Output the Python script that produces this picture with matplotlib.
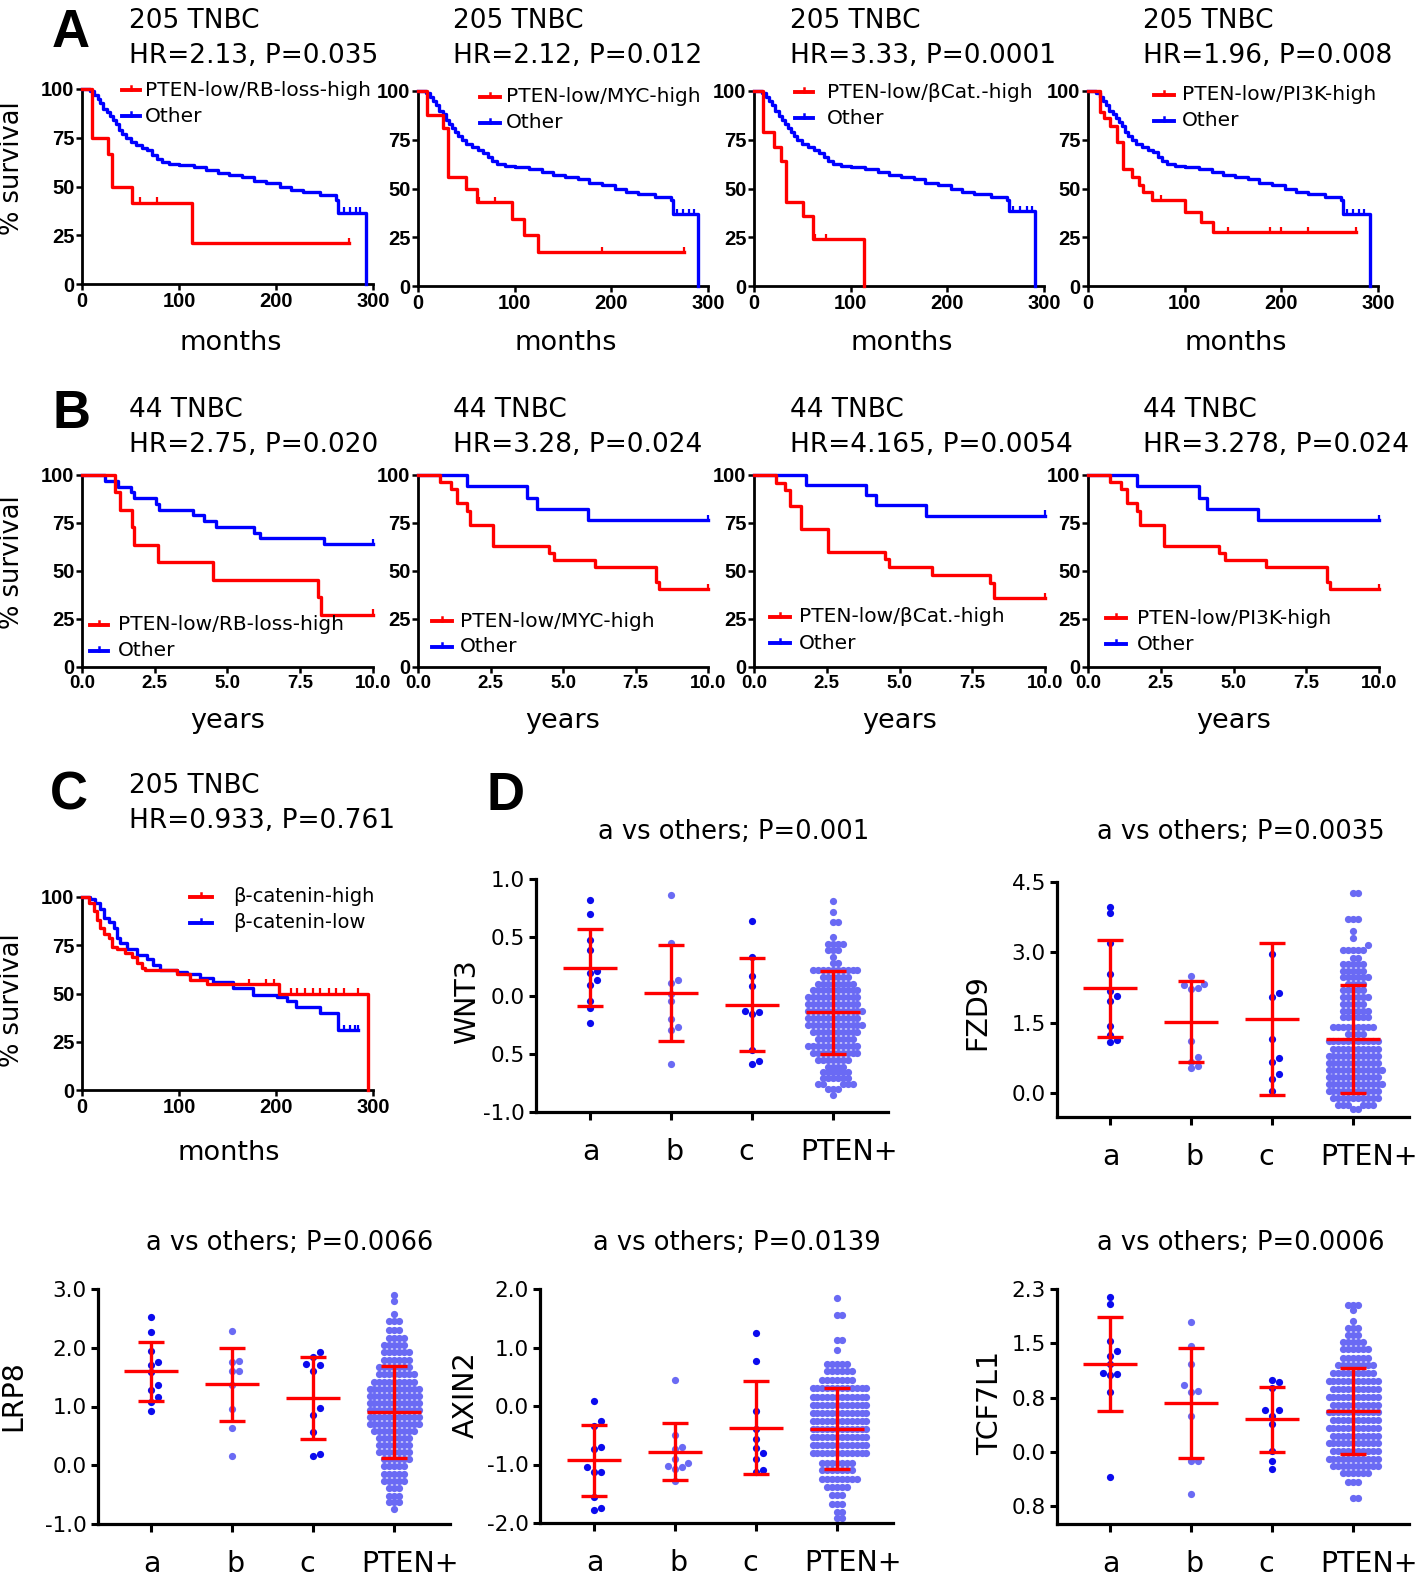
import matplotlib
matplotlib.use("Agg")
import matplotlib.pyplot as plt
from matplotlib.lines import Line2D
import numpy as np

plt.rcParams['font.family'] = 'DejaVu Sans'

RED = '#ff0000'
BLUE = '#0000ff'
DOT_DARK = '#0b0bee'
DOT_LIGHT = '#6a6af4'

# ---------------- A: 205 TNBC, months ----------------
a_hr = ['HR=2.13, P=0.035', 'HR=2.12, P=0.012', 'HR=3.33, P=0.0001', 'HR=1.96, P=0.008']
a_low_labels = ['PTEN-low/RB-loss-high', 'PTEN-low/MYC-high', 'PTEN-low/\u03b2Cat.-high', 'PTEN-low/PI3K-high']

a1_low_t = [0, 10, 27, 31, 52, 113, 275]
a1_low_s = [100, 75, 66.7, 50, 41.7, 20.8, 20.8]
a1_low_c = [60, 77, 275]
a2_low_t = [0, 9, 25.5, 31, 50, 61, 97, 110, 124, 275]
a2_low_s = [100, 87.5, 81, 56, 50, 43, 34.5, 26, 17.3, 17.3]
a2_low_c = [63, 80, 190, 275]
a3_low_t = [0, 9, 21, 28, 33, 51, 61, 114]
a3_low_s = [100, 79, 71.5, 64, 43, 36, 24, 0]
a3_low_c = [63, 75]
a4_low_t = [0, 12, 17, 23, 30, 36, 45, 53, 57, 66, 100, 117, 129, 277]
a4_low_s = [100, 89, 86, 82, 74, 60, 56, 52, 48, 44, 38, 33, 27.6, 27.6]
a4_low_c = [75, 145, 188, 200, 228, 277]

a1_oth_t = [0, 8, 12, 16, 19, 22, 26, 29, 32, 35, 38, 41, 45, 50, 56, 62, 67, 72, 77, 82, 90,
            100, 115, 128, 140, 152, 165, 177, 190, 204, 215, 228, 245, 262, 264, 293]
a1_oth_s = [100, 99, 97, 95, 93, 90, 88, 86, 84, 82, 79, 77, 75, 73, 71.5, 70, 68.5, 66, 64, 62.5, 61.5,
            61, 60, 58.5, 57, 56, 55, 53, 52, 50, 48, 47, 45.5, 43, 36.5, 0]
a1_oth_c = [270, 276, 282, 287]
a2_oth_t = [0, 8, 12, 16, 19, 22, 26, 29, 32, 35, 38, 41, 45, 50, 56, 62, 67, 72, 77, 82, 90,
            100, 115, 128, 140, 152, 165, 177, 190, 204, 215, 228, 245, 262, 264, 290]
a2_oth_s = [100, 99, 97, 95, 93, 90, 88, 85, 83, 81, 79, 77, 75, 73, 71.5, 70, 68, 66, 64, 62.5, 61.5,
            61, 60, 58.5, 57, 56, 55, 53, 52, 50, 48, 47, 45.5, 44, 37, 0]
a2_oth_c = [268, 274, 280, 285]
a3_oth_t = [0, 8, 12, 16, 19, 22, 26, 29, 32, 35, 38, 41, 45, 50, 56, 62, 67, 72, 77, 82, 90,
            100, 115, 128, 140, 152, 165, 177, 190, 204, 215, 228, 245, 262, 264, 291]
a3_oth_s = [100, 99, 97, 95, 93, 90, 87, 85, 83, 81, 79, 77, 75, 73, 71.5, 70, 68, 66, 64, 62.5, 61.5,
            61, 60, 58.5, 57, 56, 55, 53, 52, 50, 48, 47, 45.5, 44, 38.5, 0]
a3_oth_c = [268, 275, 282, 288]
a4_oth_t = [0, 8, 12, 16, 19, 22, 26, 29, 32, 35, 38, 41, 45, 50, 56, 62, 67, 72, 77, 82, 90,
            100, 115, 128, 140, 152, 165, 177, 190, 204, 215, 228, 245, 262, 264, 292]
a4_oth_s = [100, 99, 97, 95, 93, 90, 88, 86, 84, 82, 79, 77, 75, 73, 71.5, 70, 68.5, 66, 64, 62.5, 61.5,
            61, 60, 58.5, 57, 56, 55, 53, 52, 50, 48, 47, 45.5, 44, 37, 0]
a4_oth_c = [268, 274, 280, 286]

# ---------------- B: 44 TNBC, years ----------------
b_hr = ['HR=2.75, P=0.020', 'HR=3.28, P=0.024', 'HR=4.165, P=0.0054', 'HR=3.278, P=0.024']

b1_low_t = [0, 1.15, 1.3, 1.72, 1.8, 2.6, 4.5, 8.1, 8.2, 10]
b1_low_s = [100, 91, 82, 73, 63.6, 54.5, 45.5, 36.4, 27.3, 27.3]
b1_oth_t = [0, 0.8, 1.25, 1.7, 1.8, 2.55, 2.65, 3.8, 4.2, 4.6, 5.9, 6.1, 8.3, 10]
b1_oth_s = [100, 97, 94, 91, 88, 85, 82, 79, 76, 73, 70, 67, 64, 64]
b2_low_t = [0, 0.75, 1.15, 1.35, 1.7, 1.8, 2.6, 4.5, 4.7, 6.1, 8.2, 8.3, 10]
b2_low_s = [100, 96.3, 92.6, 85.2, 81.5, 74.1, 63, 59.3, 55.6, 51.9, 44.4, 40.7, 40.7]
b2_oth_t = [0, 1.68, 3.75, 4.1, 5.86, 10]
b2_oth_s = [100, 94.1, 88.2, 82.4, 76.5, 76.5]
b3_low_t = [0, 0.75, 1.05, 1.25, 1.62, 2.55, 4.5, 4.65, 6.1, 8.1, 8.25, 10]
b3_low_s = [100, 96, 92, 84, 72, 60, 56, 52, 48, 44, 36, 36]
b3_oth_t = [0, 1.78, 3.84, 4.2, 5.9, 10]
b3_oth_s = [100, 94.7, 89.5, 84.2, 78.9, 78.9]
b4_low_t = [0, 0.75, 1.15, 1.35, 1.7, 1.8, 2.6, 4.5, 4.7, 6.1, 8.2, 8.3, 10]
b4_low_s = [100, 96.3, 92.6, 85.2, 81.5, 74.1, 63, 59.3, 55.6, 51.9, 44.4, 40.7, 40.7]
b4_oth_t = [0, 1.7, 3.8, 4.1, 5.85, 10]
b4_oth_s = [100, 94.1, 88.2, 82.4, 76.5, 76.5]

# ---------------- C: beta-catenin, months ----------------
c_high_t = [0, 6.9, 12, 15.4, 18.9, 22.3, 27.4, 30.9, 36, 44.6, 51.4, 56.6, 61.7, 65, 97.7, 111, 128.6, 203, 295]
c_high_s = [100, 97, 93, 88, 84, 81, 79, 74, 73, 71, 69, 66, 63, 62, 60, 57, 55, 50, 0]
c_high_c = [172, 190, 198, 215, 222, 230, 238, 245, 255, 262, 270, 285]
c_low_t = [0, 8.6, 13.7, 18.9, 22.3, 27.4, 32.6, 36, 39.4, 46.3, 56.6, 66.9, 73.7, 80.6, 97.7, 108,
           121.7, 135, 156, 176.6, 200.6, 210.9, 221, 245, 264, 284.6]
c_low_s = [100, 99, 97, 94, 89, 87, 84, 79, 76, 73, 70, 68, 65, 62, 61, 60,
           58, 56, 53, 49, 48, 46, 43, 40, 31, 31]
c_low_c = [270, 276, 281, 284.6]

# ---------------- D: expression by group ----------------
groups = ['a', 'b', 'c', 'PTEN+']

wnt3_a = [0.82, 0.70, 0.48, 0.39, 0.21, 0.19, 0.13, 0.09, -0.05, -0.11, -0.24]
wnt3_b = [0.86, 0.45, 0.13, 0.11, 0.01, -0.05, -0.20, -0.27, -0.30, -0.59]
wnt3_c = [0.64, 0.33, 0.17, 0.08, -0.13, -0.14, -0.16, -0.47, -0.56, -0.59]
wnt3_p_lev = [0.81, 0.72, 0.63, 0.50, 0.44, 0.39, 0.33, 0.28, 0.22, 0.16, 0.10, 0.05, -0.01, -0.07,
              -0.13, -0.19, -0.25, -0.31, -0.37, -0.43, -0.49, -0.55, -0.61, -0.66, -0.71, -0.76, -0.80, -0.85]
wnt3_p_cnt = [1, 1, 2, 1, 4, 3, 1, 2, 10, 6, 8, 10, 11, 11, 12, 11, 12, 10, 8, 11, 10, 7, 4, 6, 6, 5, 3, 1]
wnt3_mean = [0.24, 0.02, -0.08, -0.145]
wnt3_sd = [0.33, 0.41, 0.40, 0.355]

fzd9_a = [3.97, 3.83, 3.19, 2.54, 2.18, 2.07, 1.97, 1.42, 1.24, 1.13, 1.08]
fzd9_b = [2.49, 2.32, 2.30, 2.23, 2.21, 1.12, 0.77, 0.67, 0.57, 0.53]
fzd9_c = [2.96, 2.13, 2.04, 1.15, 0.74, 0.66, 0.41, 0.30, 0.04]
fzd9_p_lev = [4.27, 3.72, 3.45, 3.30, 3.15, 3.05, 2.88, 2.75, 2.60, 2.48, 2.33, 2.20, 2.05, 1.90, 1.75,
              1.62, 1.40, 1.25, 1.10, 0.95, 0.80, 0.65, 0.50, 0.35, 0.20, 0.05, -0.10, -0.25, -0.33]
fzd9_p_cnt = [2, 3, 1, 1, 1, 5, 2, 5, 5, 6, 4, 5, 6, 5, 6, 6, 9, 4, 11, 10, 11, 11, 12, 11, 12, 11, 10, 6, 2]
fzd9_mean = [2.23, 1.52, 1.57, 1.15]
fzd9_sd = [1.04, 0.86, 1.62, 1.15]

lrp8_a = [2.52, 2.27, 1.95, 1.76, 1.70, 1.58, 1.36, 1.28, 1.16, 1.08, 0.93]
lrp8_b = [2.28, 1.78, 1.75, 1.61, 1.61, 1.37, 0.95, 0.64, 0.15]
lrp8_c = [1.92, 1.84, 1.72, 1.71, 1.61, 0.97, 0.86, 0.56, 0.19, 0.16]
lrp8_p_lev = [2.90, 2.80, 2.58, 2.45, 2.30, 2.17, 2.05, 1.92, 1.80, 1.68, 1.55, 1.42, 1.30, 1.18, 1.06,
              0.94, 0.82, 0.70, 0.58, 0.46, 0.34, 0.22, 0.10, -0.02, -0.15, -0.27, -0.38, -0.52, -0.62, -0.75]
lrp8_p_cnt = [1, 1, 1, 3, 3, 4, 5, 6, 6, 7, 8, 9, 11, 11, 11, 11, 11, 11, 9, 7, 7, 7, 6, 5, 5, 5, 3, 3, 3, 1]
lrp8_mean = [1.60, 1.38, 1.15, 0.91]
lrp8_sd = [0.50, 0.62, 0.70, 0.78]

axin2_a = [0.09, -0.25, -0.35, -0.70, -0.73, -1.04, -1.13, -1.13, -1.56, -1.74, -1.78]
axin2_b = [0.45, -0.50, -0.70, -0.73, -0.90, -0.98, -1.02, -1.05, -1.08, -1.28]
axin2_c = [1.24, 0.77, -0.09, -0.39, -0.56, -0.72, -0.80, -0.91, -1.09, -1.12]
axin2_p_lev = [1.85, 1.55, 1.13, 0.95, 0.72, 0.60, 0.45, 0.30, 0.16, 0.02, -0.12, -0.25, -0.39, -0.53,
               -0.67, -0.80, -0.98, -1.10, -1.25, -1.38, -1.52, -1.68, -1.82, -1.92]
axin2_p_cnt = [1, 2, 2, 1, 5, 6, 7, 12, 12, 12, 12, 12, 12, 12, 12, 12, 7, 7, 8, 5, 3, 3, 2, 2]
axin2_mean = [-0.93, -0.78, -0.37, -0.39]
axin2_sd = [0.61, 0.49, 0.80, 0.69]

tcf_a = [2.19, 2.09, 1.56, 1.43, 1.36, 1.24, 1.12, 1.10, 1.08, 0.84, -0.35]
tcf_b = [1.84, 1.49, 1.24, 0.94, 0.86, 0.85, 0.51, -0.13, -0.13, -0.59]
tcf_c = [1.01, 0.99, 0.91, 0.59, 0.59, 0.51, 0.40, 0.01, -0.13, -0.24]
tcf_p_lev = [2.08, 2.00, 1.85, 1.75, 1.65, 1.55, 1.45, 1.33, 1.23, 1.12, 1.00, 0.89, 0.78, 0.67, 0.56,
             0.45, 0.34, 0.23, 0.12, 0.01, -0.10, -0.20, -0.30, -0.42, -0.65]
tcf_p_cnt = [3, 1, 1, 3, 3, 5, 6, 6, 8, 9, 11, 10, 11, 10, 11, 10, 11, 10, 11, 10, 11, 10, 6, 3, 2]
tcf_mean = [1.24, 0.69, 0.46, 0.58]
tcf_sd = [0.66, 0.78, 0.46, 0.61]

# ---------------- figure ----------------
W, H = 1418, 1575
fig = plt.figure(figsize=(W / 100, H / 100), dpi=100)


def px_axes(l, t, r, b):
    return fig.add_axes([l / W, 1 - b / H, (r - l) / W, (b - t) / H])


def ftext(x, y, s, **kw):
    fig.text(x / W, 1 - y / H, s, **kw)


def bold_ticks(ax, xsize=14.5, ysize=14.5):
    for lab in ax.get_xticklabels():
        lab.set_family('Liberation Sans')
        lab.set_weight('bold')
        lab.set_size(xsize)
    for lab in ax.get_yticklabels():
        lab.set_family('Liberation Sans')
        lab.set_weight('bold')
        lab.set_size(ysize)


def km_axes(box, xmax, xticks, xlabels, xsize=14.5):
    ax = px_axes(*box)
    ax.set_xlim(0, xmax)
    ax.set_ylim(0, 100)
    for sp in ['top', 'right']:
        ax.spines[sp].set_visible(False)
    for sp in ['left', 'bottom']:
        ax.spines[sp].set_linewidth(2.0)
    ax.set_xticks(xticks)
    ax.set_xticklabels(xlabels)
    ax.set_yticks([0, 25, 50, 75, 100])
    ax.set_yticklabels(['0', '25', '50', '75', '100'])
    ax.tick_params(direction='out', length=4, width=1.8, pad=1.5)
    bold_ticks(ax, xsize=xsize)
    return ax


def km(ax, t, s, color, cens=()):
    t = np.asarray(t, float)
    s = np.asarray(s, float)
    ax.plot(t, s, drawstyle='steps-post', color=color, lw=2.4, clip_on=False, zorder=3)
    if len(cens):
        ct = np.asarray(cens, float)
        idx = np.searchsorted(t, ct, side='right') - 1
        ax.plot(ct, s[idx] + 1.2, ls='none', marker='|', ms=5, mew=1.6, color=color,
                clip_on=False, zorder=3)


def legend_entry(x0, x1, y, color, label, tx, size=14.5):
    fig.add_artist(Line2D([x0 / W, x1 / W], [1 - y / H] * 2, color=color, lw=2.8))
    xm = (x0 + x1) / 2
    fig.add_artist(Line2D([xm / W] * 2, [1 - (y - 4) / H, 1 - y / H], color=color, lw=1.8))
    ftext(tx, y, label, va='center', ha='left', fontsize=size)


# panel letters
for letter, lx, ly in [('A', 52, 47), ('B', 52, 428), ('C', 50, 810), ('D', 486, 810)]:
    ftext(lx, ly, letter, family='Liberation Sans', weight='bold', fontsize=38)

# ---- row A ----
a_boxes = [(82, 89, 373, 284), (418, 91, 708, 286), (754, 91, 1044, 286), (1088, 91, 1378, 286)]
a_title_x = [129, 453, 790, 1143]
a_leg = [(122, 140, 145, 90, 116), (480, 500, 506, 97, 123), (795, 813, 827, 92, 118), (1154, 1174, 1182, 95, 121)]
a_low = [(a1_low_t, a1_low_s, a1_low_c), (a2_low_t, a2_low_s, a2_low_c),
         (a3_low_t, a3_low_s, a3_low_c), (a4_low_t, a4_low_s, a4_low_c)]
a_oth = [(a1_oth_t, a1_oth_s, a1_oth_c), (a2_oth_t, a2_oth_s, a2_oth_c),
         (a3_oth_t, a3_oth_s, a3_oth_c), (a4_oth_t, a4_oth_s, a4_oth_c)]
for i in range(4):
    ax = km_axes(a_boxes[i], 300, [0, 100, 200, 300], ['0', '100', '200', '300'])
    km(ax, *a_oth[i][:2], BLUE, a_oth[i][2])
    km(ax, *a_low[i][:2], RED, a_low[i][2])
    ftext(a_title_x[i], 28, '205 TNBC', fontsize=19)
    ftext(a_title_x[i], 63, a_hr[i], fontsize=19)
    x0, x1, tx, y1, y2 = a_leg[i]
    legend_entry(x0, x1, y1, RED, a_low_labels[i], tx)
    legend_entry(x0, x1, y2, BLUE, 'Other', tx)
    cx = (a_boxes[i][0] + a_boxes[i][2]) / 2 + 3
    ftext(cx, 350, 'months', ha='center', fontsize=19.5)
ftext(12, 168, '% survival', rotation=90, ha='center', va='center', fontsize=18.5)

# ---- row B ----
b_boxes = [(82, 475, 373, 667), (418, 475, 708, 667), (754, 475, 1045, 667), (1088, 475, 1379, 667)]
b_leg = [(90, 108, 118, 625, 651), (432, 452, 460, 621, 647), (770, 790, 799, 617, 643), (1106, 1126, 1137, 618, 644)]
b_low = [(b1_low_t, b1_low_s), (b2_low_t, b2_low_s), (b3_low_t, b3_low_s), (b4_low_t, b4_low_s)]
b_oth = [(b1_oth_t, b1_oth_s), (b2_oth_t, b2_oth_s), (b3_oth_t, b3_oth_s), (b4_oth_t, b4_oth_s)]
for i in range(4):
    ax = km_axes(b_boxes[i], 10, [0, 2.5, 5, 7.5, 10], ['0.0', '2.5', '5.0', '7.5', '10.0'], xsize=13.5)
    km(ax, *b_oth[i], BLUE, [10])
    km(ax, *b_low[i], RED, [10])
    ftext(a_title_x[i], 417, '44 TNBC', fontsize=19)
    ftext(a_title_x[i], 452, b_hr[i], fontsize=19)
    x0, x1, tx, y1, y2 = b_leg[i]
    legend_entry(x0, x1, y1, RED, a_low_labels[i], tx)
    legend_entry(x0, x1, y2, BLUE, 'Other', tx)
    cx = (b_boxes[i][0] + b_boxes[i][2]) / 2
    ftext(cx, 728, 'years', ha='center', fontsize=19.5)
ftext(12, 562, '% survival', rotation=90, ha='center', va='center', fontsize=18.5)

# ---- row C ----
ax = km_axes((82, 897, 373, 1090), 300, [0, 100, 200, 300], ['0', '100', '200', '300'])
km(ax, c_low_t, c_low_s, BLUE, c_low_c)
km(ax, c_high_t, c_high_s, RED, c_high_c)
ftext(129, 793, '205 TNBC', fontsize=19)
ftext(129, 828, 'HR=0.933, P=0.761', fontsize=19)
legend_entry(190, 212, 897, RED, '\u03b2-catenin-high', 233, size=14)
legend_entry(190, 212, 923, BLUE, '\u03b2-catenin-low', 233, size=14)
ftext(229, 1160, 'months', ha='center', fontsize=19.5)
ftext(12, 1000, '% survival', rotation=90, ha='center', va='center', fontsize=18.5)


# ---- row D ----
def swarm_x(ax, xc, vals, step):
    x0, x1 = ax.get_xlim()
    y0, y1 = ax.get_ylim()
    sx = ax.bbox.width / (x1 - x0)
    sy = ax.bbox.height / (y1 - y0)
    vals = np.asarray(vals, float)
    xs = np.zeros(len(vals))
    placed = []
    for i in np.argsort(vals, kind='stable'):
        ypx = vals[i] * sy
        k = 0
        while True:
            off = ((k + 1) // 2) * step * (1 if k % 2 == 1 else -1)
            if all((off - px) ** 2 + (ypx - py) ** 2 >= (step * 0.98) ** 2 for px, py in placed):
                break
            k += 1
        placed.append((off, ypx))
        xs[i] = xc + off / sx
    return xs


d_specs = [
    dict(box=(536, 879, 888, 1112), xlim=(-0.667, 3.68), ylim=(-1, 1),
         yt=[-1, -0.5, 0, 0.5, 1.0], ytl=['-1.0', '0.5', '0.0', '0.5', '1.0'],
         data=(wnt3_a, wnt3_b, wnt3_c, wnt3_p_lev, wnt3_p_cnt), mean=wnt3_mean, sd=wnt3_sd,
         name='WNT3', name_xy=(467, 1002), title='a vs others; P=0.001', title_xy=(734, 839)),
    dict(box=(1057, 882, 1409, 1117), xlim=(-0.654, 3.69), ylim=(-0.51, 4.5),
         yt=[0, 1.5, 3.0, 4.5], ytl=['0.0', '1.5', '3.0', '4.5'],
         data=(fzd9_a, fzd9_b, fzd9_c, fzd9_p_lev, fzd9_p_cnt), mean=fzd9_mean, sd=fzd9_sd,
         name='FZD9', name_xy=(977, 1012), title='a vs others; P=0.0035', title_xy=(1241, 839)),
    dict(box=(98, 1289, 450, 1524), xlim=(-0.654, 3.69), ylim=(-1, 3),
         yt=[-1, 0, 1, 2, 3], ytl=['-1.0', '0.0', '1.0', '2.0', '3.0'],
         data=(lrp8_a, lrp8_b, lrp8_c, lrp8_p_lev, lrp8_p_cnt), mean=lrp8_mean, sd=lrp8_sd,
         name='LRP8', name_xy=(13, 1396), title='a vs others; P=0.0066', title_xy=(290, 1250)),
    dict(box=(540, 1289, 893, 1523), xlim=(-0.667, 3.69), ylim=(-2, 2),
         yt=[-2, -1, 0, 1, 2], ytl=['-2.0', '-1.0', '0.0', '1.0', '2.0'],
         data=(axin2_a, axin2_b, axin2_c, axin2_p_lev, axin2_p_cnt), mean=axin2_mean, sd=axin2_sd,
         name='AXIN2', name_xy=(466, 1395), title='a vs others; P=0.0139', title_xy=(737, 1250)),
    dict(box=(1057, 1289, 1409, 1524), xlim=(-0.654, 3.69), ylim=(-1.016, 2.3),
         yt=[-0.767, 0, 0.767, 1.533, 2.3], ytl=['0.8', '0.0', '0.8', '1.5', '2.3'],
         data=(tcf_a, tcf_b, tcf_c, tcf_p_lev, tcf_p_cnt), mean=tcf_mean, sd=tcf_sd,
         name='TCF7L1', name_xy=(990, 1403), title='a vs others; P=0.0006', title_xy=(1241, 1250)),
]

dot_colors = [DOT_DARK, DOT_LIGHT, DOT_DARK, DOT_LIGHT]
dot_steps = [6.6, 6.6, 6.6, 4.9]
label_shift = [1, 3, -6, 16]   # px, horizontal nudge of category labels
for spec in d_specs:
    ax = px_axes(*spec['box'])
    ax.set_xlim(*spec['xlim'])
    ax.set_ylim(*spec['ylim'])
    for sp in ['top', 'right']:
        ax.spines[sp].set_visible(False)
    for sp in ['left', 'bottom']:
        ax.spines[sp].set_linewidth(2.3)
    ga, gb, gc, lev, cnt = spec['data']
    vals = [ga, gb, gc, np.repeat(lev, cnt)]
    for k, v in enumerate(vals):
        xs = swarm_x(ax, k, v, dot_steps[k])
        ax.scatter(xs, v, s=27, color=dot_colors[k], linewidths=0, zorder=2, clip_on=False)
    for k in range(4):
        m, sd = spec['mean'][k], spec['sd'][k]
        ax.plot([k - 0.33, k + 0.33], [m, m], color=RED, lw=2.4, zorder=4, solid_capstyle='butt')
        ax.errorbar(k, m, yerr=sd, color=RED, lw=2.4, capsize=9.5, capthick=2.4, zorder=4, fmt='none')
    ax.set_xticks(range(4))
    ax.set_xticklabels([])
    for k, (g, dx) in enumerate(zip(groups, label_shift)):
        ax.annotate(g, xy=(k, 0), xycoords=ax.get_xaxis_transform(),
                    xytext=(dx * 0.72, -48 * 0.72), textcoords='offset points',
                    ha='center', va='baseline', fontsize=20.5, annotation_clip=False)
    ax.set_yticks(spec['yt'])
    ax.set_yticklabels(spec['ytl'], fontsize=15.5)
    ax.tick_params(axis='x', direction='out', length=6, width=2.2)
    ax.tick_params(axis='y', direction='out', length=5, width=2.2, pad=3)
    nx, ny = spec['name_xy']
    ftext(nx, ny, spec['name'], rotation=90, ha='center', va='center', fontsize=20.5)
    tx, ty = spec['title_xy']
    ftext(tx, ty, spec['title'], ha='center', fontsize=18.5)

fig.savefig('out.png', dpi=100)
